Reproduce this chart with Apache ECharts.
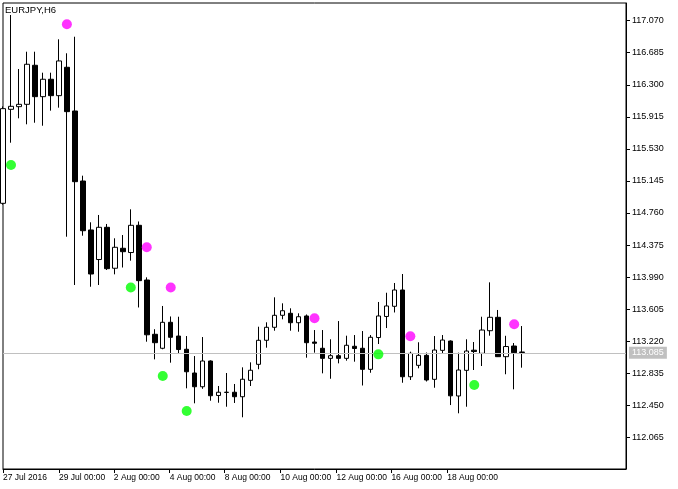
<!DOCTYPE html>
<html><head><meta charset="utf-8">
<script src="https://cdn.jsdelivr.net/npm/echarts@6/dist/echarts.min.js"></script>
<style>html,body{margin:0;padding:0;background:#fff}#c{width:678px;height:489px}</style>
</head><body><div id="c"></div>
<script>
// ---- data (EURJPY, H6) ----
const symbolTitle = 'EURJPY,H6';
const opens  = [114.876,116.005,116.037,116.065,116.534,116.157,116.366,116.169,116.510,115.985,115.144,114.556,114.201,114.588,114.096,114.336,114.285,114.612,113.955,113.303,113.135,113.447,113.282,113.123,112.838,112.673,112.982,112.568,112.607,112.607,112.553,112.750,112.942,113.231,113.387,113.531,113.555,113.442,113.523,113.210,113.135,113.014,113.046,113.014,113.159,113.135,112.882,113.264,113.517,113.639,113.835,112.793,112.930,113.050,112.762,113.110,113.222,112.562,112.870,113.112,113.074,113.346,113.507,113.034,113.162,113.090];
const closes = [116.013,116.041,116.065,116.546,116.157,116.366,116.169,116.586,115.977,115.136,114.547,114.027,114.588,114.091,114.348,114.295,114.612,113.947,113.297,113.202,113.447,113.267,113.120,112.853,112.673,112.982,112.565,112.607,112.605,112.553,112.763,112.871,113.231,113.387,113.531,113.586,113.442,113.514,113.202,113.195,113.014,113.046,113.014,113.171,113.132,112.882,113.267,113.523,113.643,113.835,112.793,113.074,113.050,112.754,113.114,113.234,112.564,112.874,113.102,113.096,113.354,113.507,113.034,113.156,113.082,113.085];
const highs  = [116.040,117.138,116.489,116.697,116.697,116.445,116.445,116.846,116.678,116.877,115.208,114.648,114.736,114.628,114.456,114.495,114.804,114.658,113.987,113.364,113.643,113.517,113.514,113.282,113.042,113.270,112.990,112.682,112.838,112.706,112.906,112.966,113.394,113.447,113.747,113.675,113.615,113.555,113.541,113.354,113.354,113.243,113.462,113.286,113.294,113.342,113.294,113.691,113.802,113.919,114.027,113.094,113.207,113.084,113.282,113.294,113.230,113.082,113.243,113.210,113.514,113.927,113.595,113.285,113.198,113.402];
const lows   = [114.860,115.604,115.897,115.825,115.844,115.808,115.989,116.025,114.475,113.895,114.487,113.874,113.895,114.075,114.023,114.105,114.187,113.625,113.214,113.002,113.123,112.962,113.066,112.654,112.474,112.648,112.505,112.481,112.433,112.478,112.306,112.682,112.883,113.142,113.346,113.483,113.346,113.334,113.022,113.082,112.834,112.769,112.954,112.986,112.974,112.688,112.841,113.186,113.378,113.565,112.721,112.754,112.894,112.736,112.661,113.070,112.453,112.354,112.433,112.874,112.922,113.286,113.030,112.823,112.642,112.902];

const upDotBars   = [8, 18, 21, 39, 51, 64];
const upDotValues = [117.026, 114.348, 113.865, 113.495, 113.279, 113.423];
const dnDotBars   = [1, 16, 20, 23, 47, 59];
const dnDotValues = [115.336, 113.865, 112.802, 112.381, 113.062, 112.694];

const currentPrice = 113.085;

const yTicks = [112.065,112.450,112.835,113.220,113.605,113.990,114.375,114.760,115.145,115.530,115.915,116.300,116.685,117.070];
const tickLabels = ['27 Jul 2016','29 Jul 00:00','2 Aug 00:00','4 Aug 00:00','8 Aug 00:00','10 Aug 00:00','12 Aug 00:00','16 Aug 00:00','18 Aug 00:00'];
const tickPos = [0, 7, 13.875, 20.875, 27.75, 34.75, 41.75, 48.625, 55.625];

const yMin = 111.685, yMax = 117.282;
const slotCount = 79; // visible bar slots incl. empty right margin

// ---- build ----
const categories = [];
for (let i = 0; i < slotCount; i++) categories.push(String(i));
const candleData = opens.map((o, i) => [o, closes[i], lows[i], highs[i]]);
const upDots = upDotBars.map((b, i) => [b, upDotValues[i]]);
const dnDots = dnDotBars.map((b, i) => [b, dnDotValues[i]]);

const FONT = 'Liberation Sans';
const chart = echarts.init(document.getElementById('c'), null, {renderer: 'canvas'});
chart.setOption({
  animation: false,
  backgroundColor: '#fff',
  title: {text: symbolTitle, left: 5, top: 5, padding: 0, textStyle: {fontFamily: FONT, fontSize: 9.5, fontWeight: 'normal', color: '#000'}},
  grid: {left: 2, right: 52, top: 3, bottom: 20, show: true, borderColor: '#000', borderWidth: 1, backgroundColor: '#fff'},
  xAxis: [
    {type: 'category', data: categories, boundaryGap: false, axisLine: {show: false, onZero: false}, axisTick: {show: false}, axisLabel: {show: false}, splitLine: {show: false}},
    {type: 'value', min: 0, max: slotCount - 1, position: 'bottom',
      axisLine: {show: true, onZero: false, lineStyle: {color: '#000', width: 1}},
      axisTick: {show: true, length: 4, lineStyle: {color: '#000'}, customValues: tickPos},
      axisLabel: {customValues: tickPos, align: 'left', margin: 4, fontFamily: FONT, fontSize: 8.5, color: '#000',
        formatter: function (v) { for (let i = 0; i < tickPos.length; i++) if (Math.abs(tickPos[i] - v) < 1e-6) return tickLabels[i]; return ''; }},
      splitLine: {show: false}}
  ],
  yAxis: {type: 'value', position: 'right', min: yMin, max: yMax,
    axisLine: {show: true, onZero: false, lineStyle: {color: '#000', width: 1}},
    axisTick: {show: true, length: 4, lineStyle: {color: '#000'}, customValues: yTicks},
    axisLabel: {customValues: yTicks, margin: 6, fontFamily: FONT, fontSize: 9, color: '#000', formatter: v => v.toFixed(3)},
    splitLine: {show: false}},
  series: [
    {type: 'candlestick', xAxisIndex: 0, data: candleData, barWidth: 5, clip: true,
      itemStyle: {color: '#fff', color0: '#000', borderColor: '#000', borderColor0: '#000', borderColorDoji: '#000', borderWidth: 1},
      markLine: {silent: true, symbol: ['none', 'none'], animation: false,
        lineStyle: {color: '#c0c0c0', type: 'solid', width: 1},
        label: {show: true, position: 'end', distance: 3, formatter: currentPrice.toFixed(3), color: '#fff', backgroundColor: '#c0c0c0', padding: [2, 3, 1, 3], fontFamily: FONT, fontSize: 9},
        data: [{yAxis: currentPrice}]},
      z: 3},
    {type: 'scatter', xAxisIndex: 0, data: upDots, symbol: 'circle', symbolSize: 10, itemStyle: {color: '#ff00ff'}, z: 5},
    {type: 'scatter', xAxisIndex: 0, data: dnDots, symbol: 'circle', symbolSize: 10, itemStyle: {color: '#00ff00'}, z: 5}
  ]
});
</script></body></html>
